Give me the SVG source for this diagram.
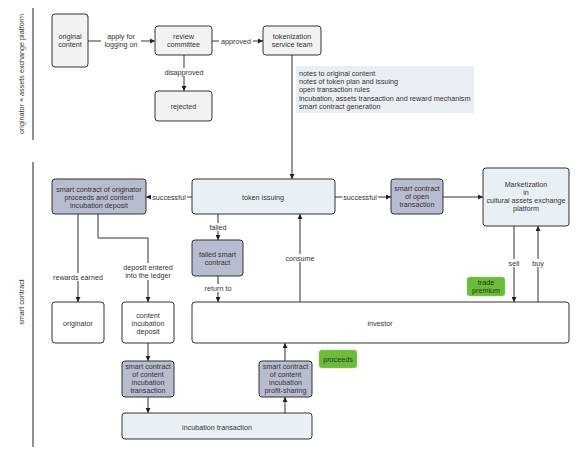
<svg xmlns="http://www.w3.org/2000/svg" width="588" height="455" viewBox="0 0 588 455">
<defs>
<marker id="ah" viewBox="0 0 6 6" refX="6" refY="3" markerWidth="5" markerHeight="5" orient="auto" markerUnits="userSpaceOnUse"><path d="M0,0 L6,3 L0,6 z" fill="#222"/></marker>
<style>
text{font-family:"Liberation Sans",Arial,sans-serif;font-size:7.2px;fill:#333;text-anchor:middle}
.n{stroke:#333;stroke-width:1}
.gray{fill:#f2f2f2}
.white{fill:#fff}
.lb{fill:#e9f0f5}
.db{fill:#b8bccf}
.gr{fill:#6cbb3c;stroke:#8fd060;stroke-width:0.5}
.gt{fill:#1f3a10}
.c{stroke:#333;stroke-width:1;fill:none}
.a{marker-end:url(#ah)}
.bg{fill:#fff}
.note{fill:#e8eef3}
.nt{text-anchor:start}
.lane{stroke:#444;stroke-width:1.2}
</style>
</defs>
<rect width="588" height="455" fill="#fff"/>
<g id="lanes">
<line class="lane" x1="33" y1="8" x2="33" y2="140"/>
<line class="lane" x1="33" y1="162" x2="33" y2="447"/>
<text transform="translate(24,74) rotate(-90)">originator × assets exchange platform</text>
<text transform="translate(24,302) rotate(-90)">smart contract</text>
</g>
<g id="connectors">
<line class="c a" x1="88" y1="41" x2="155" y2="41"/>
<line class="c a" x1="212" y1="41" x2="263" y2="41"/>
<line class="c a" x1="184" y1="55" x2="184" y2="91"/>
<line class="c a" x1="292" y1="55" x2="292" y2="179"/>
<line class="c a" x1="192" y1="197" x2="146" y2="197"/>
<line class="c a" x1="335" y1="197" x2="391" y2="197"/>
<line class="c a" x1="443" y1="197" x2="483" y2="197"/>
<line class="c a" x1="218" y1="214" x2="218" y2="240"/>
<line class="c a" x1="218" y1="276" x2="218" y2="302"/>
<line class="c a" x1="300" y1="302" x2="300" y2="214"/>
<line class="c a" x1="514" y1="226" x2="514" y2="302"/>
<line class="c a" x1="538" y1="302" x2="538" y2="226"/>
<line class="c a" x1="78" y1="214" x2="78" y2="302"/>
<polyline class="c a" points="98,214 98,238 148,238 148,302"/>
<line class="c a" x1="148" y1="343" x2="148" y2="361"/>
<line class="c a" x1="148" y1="397" x2="148" y2="413"/>
<line class="c a" x1="285" y1="413" x2="285" y2="397"/>
<line class="c a" x1="285" y1="361" x2="285" y2="343"/>
<rect class="bg" x="101" y="31" width="40" height="18"/>
<text x="121" y="39">apply for</text>
<text x="121" y="47">logging on</text>
<rect class="bg" x="219" y="37" width="34" height="8"/>
<text x="236" y="43.5">approved</text>
<rect class="bg" x="165" y="68" width="38" height="8"/>
<text x="184" y="74.5">disapproved</text>
<rect class="bg" x="151" y="193" width="36" height="8"/>
<text x="169" y="199.5">successful</text>
<rect class="bg" x="342" y="193" width="36" height="8"/>
<text x="360" y="199.5">successful</text>
<rect class="bg" x="208" y="223" width="20" height="8"/>
<text x="218" y="229.5">failed</text>
<rect class="bg" x="203" y="284" width="30" height="8"/>
<text x="218" y="290.5">return to</text>
<rect class="bg" x="285" y="254" width="30" height="8"/>
<text x="300" y="260.5">consume</text>
<rect class="bg" x="507" y="259" width="14" height="8"/>
<text x="514" y="265.5">sell</text>
<rect class="bg" x="531" y="259" width="14" height="8"/>
<text x="538" y="265.5">buy</text>
<rect class="bg" x="54" y="273" width="48" height="8"/>
<text x="78" y="279.5">rewards earned</text>
<rect class="bg" x="124" y="263" width="48" height="17"/>
<text x="148" y="269.5">deposit entered</text>
<text x="148" y="278">into the ledger</text>
</g>
<g id="original-content"><rect class="n gray" x="52" y="14" width="36" height="53" rx="3"/><text x="70" y="38.5">original</text><text x="70" y="46.5">content</text></g>
<g id="review-committee"><rect class="n gray" x="155" y="26" width="57" height="29" rx="3"/><text x="183.5" y="39">review</text><text x="183.5" y="47">committee</text></g>
<g id="tokenization-service-team"><rect class="n gray" x="263" y="26" width="58" height="29" rx="3"/><text x="292" y="39">tokenization</text><text x="292" y="47">service team</text></g>
<g id="rejected"><rect class="n gray" x="155" y="91" width="57" height="30" rx="3"/><text x="183.5" y="108.5">rejected</text></g>
<g id="notes"><rect class="note" x="296" y="66" width="178" height="47"/>
<text class="nt" x="299" y="75.5">notes to original content</text>
<text class="nt" x="299" y="83.5">notes of token plan and issuing</text>
<text class="nt" x="299" y="91.5">open transaction rules</text>
<text class="nt" x="299" y="100.5">incubation, assets transaction and reward mechanism</text>
<text class="nt" x="299" y="108.5">smart contract generation</text></g>
<g id="sc-originator"><rect class="n db" x="52" y="179" width="94" height="35" rx="3"/><text x="99" y="191.5">smart contract of originator</text><text x="99" y="199.5">proceeds and content</text><text x="99" y="207.5">incubation deposit</text></g>
<g id="token-issuing"><rect class="n lb" x="192" y="179" width="143" height="35" rx="3"/><text x="263" y="199.5">token issuing</text></g>
<g id="sc-open-transaction"><rect class="n db" x="391" y="179" width="52" height="35" rx="3"/><text x="417" y="190.5">smart contract</text><text x="417" y="198.5">of open</text><text x="417" y="207">transaction</text></g>
<g id="marketization"><rect class="n lb" x="483" y="168" width="86" height="58" rx="3"/><text x="526" y="186.5">Marketization</text><text x="526" y="194.5">in</text><text x="526" y="202.5">cultural assets exchange</text><text x="526" y="211">platform</text></g>
<g id="failed-sc"><rect class="n db" x="192" y="240" width="51" height="36" rx="3"/><text x="217.5" y="256.5">failed smart</text><text x="217.5" y="264.5">contract</text></g>
<g id="trade-premium"><rect class="gr" x="467" y="277" width="38" height="19" rx="3"/><text class="gt" x="486" y="285">trade</text><text class="gt" x="486" y="293">premium</text></g>
<g id="originator"><rect class="n white" x="52" y="302" width="52" height="41" rx="3"/><text x="78" y="325.5">originator</text></g>
<g id="content-incubation-deposit"><rect class="n white" x="122" y="302" width="52" height="41" rx="3"/><text x="148" y="317.5">content</text><text x="148" y="325.5">incubation</text><text x="148" y="333.5">deposit</text></g>
<g id="investor"><rect class="n white" x="192" y="302" width="377" height="41" rx="3"/><text x="380" y="325.5">investor</text></g>
<g id="proceeds"><rect class="gr" x="319" y="350" width="38" height="18" rx="3"/><text class="gt" x="338" y="361.5">proceeds</text></g>
<g id="sc-incubation-transaction"><rect class="n db" x="122" y="361" width="52" height="36" rx="3"/><text x="148" y="368.5">smart contract</text><text x="148" y="376.5">of content</text><text x="148" y="384.5">incubation</text><text x="148" y="392.5">transaction</text></g>
<g id="sc-profit-sharing"><rect class="n db" x="259" y="361" width="53" height="36" rx="3"/><text x="285.5" y="368.5">smart contract</text><text x="285.5" y="376.5">of content</text><text x="285.5" y="384.5">incubation</text><text x="285.5" y="392.5">profit-sharing</text></g>
<g id="incubation-transaction"><rect class="n lb" x="122" y="413" width="190" height="26" rx="3"/><text x="217" y="429.5">incubation transaction</text></g>
</svg>
